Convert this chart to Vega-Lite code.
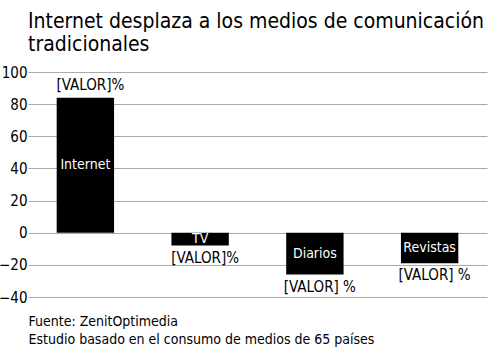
{
  "$schema": "https://vega.github.io/schema/vega-lite/v6.json",
  "autosize": "none",
  "width": 459,
  "height": 225,
  "padding": {"left": 28, "top": 72, "right": 13, "bottom": 59},
  "background": "white",
  "config": {
    "view": {"stroke": null},
    "font": "DejaVu Sans Condensed",
    "axisY": {
      "tickCount": 7,
      "domain": false,
      "ticks": false,
      "grid": true,
      "gridColor": "#aaaaaa",
      "gridWidth": 1,
      "labelOverlap": false,
      "labelFont": "DejaVu Sans Condensed",
      "labelFontSize": 15,
      "labelColor": "black",
      "labelPadding": 1
    }
  },
  "title": {
    "text": ["Internet desplaza a los medios de comunicación", "tradicionales"],
    "anchor": "start",
    "frame": "group",
    "font": "DejaVu Sans Condensed",
    "fontSize": 21,
    "fontWeight": "normal",
    "lineHeight": 23,
    "offset": 10,
    "color": "black"
  },
  "data": {
    "values": [
      {"medio": "Internet", "valor": 84, "etiqueta": "[VALOR]%"},
      {"medio": "TV", "valor": -8, "etiqueta": "[VALOR]%"},
      {"medio": "Diarios", "valor": -26, "etiqueta": "[VALOR] %"},
      {"medio": "Revistas", "valor": -19, "etiqueta": "[VALOR] %"}
    ]
  },
  "encoding": {
    "x": {
      "field": "medio",
      "type": "nominal",
      "sort": null,
      "scale": {"paddingInner": 0.5, "paddingOuter": 0.25},
      "axis": {
        "title": ["Fuente: ZenitOptimedia", "Estudio basado en el consumo de medios de 65 países"],
        "labels": false,
        "ticks": false,
        "domain": false,
        "titleAnchor": "start",
        "titleAlign": "left",
        "titleFont": "DejaVu Sans Condensed",
        "titleFontSize": 14,
        "titleFontWeight": "normal",
        "titleLineHeight": 18,
        "titleColor": "black",
        "titlePadding": 17
      }
    }
  },
  "layer": [
    {
      "mark": {"type": "bar", "color": "black"},
      "encoding": {
        "y": {
          "field": "valor",
          "type": "quantitative",
          "scale": {"domain": [-40, 100], "nice": false},
          "axis": {"title": null}
        }
      }
    },
    {
      "mark": {"type": "rule", "color": "black", "strokeWidth": 3},
      "encoding": {"y": {"datum": 0, "type": "quantitative"}}
    },
    {
      "transform": [{"calculate": "datum.valor / 2", "as": "mitad"}],
      "mark": {"type": "text", "color": "white", "fontSize": 14, "font": "DejaVu Sans Condensed"},
      "encoding": {
        "y": {"field": "mitad", "type": "quantitative"},
        "text": {"field": "medio"}
      }
    },
    {
      "transform": [{"filter": "datum.valor > 0"}],
      "mark": {"type": "text", "color": "black", "fontSize": 15, "baseline": "bottom", "dy": -5, "dx": 5, "font": "DejaVu Sans Condensed"},
      "encoding": {
        "y": {"field": "valor", "type": "quantitative"},
        "text": {"field": "etiqueta"}
      }
    },
    {
      "transform": [{"filter": "datum.valor < 0"}],
      "mark": {"type": "text", "color": "black", "fontSize": 15, "baseline": "top", "dy": 5, "dx": 5, "font": "DejaVu Sans Condensed"},
      "encoding": {
        "y": {"field": "valor", "type": "quantitative"},
        "text": {"field": "etiqueta"}
      }
    }
  ]
}
